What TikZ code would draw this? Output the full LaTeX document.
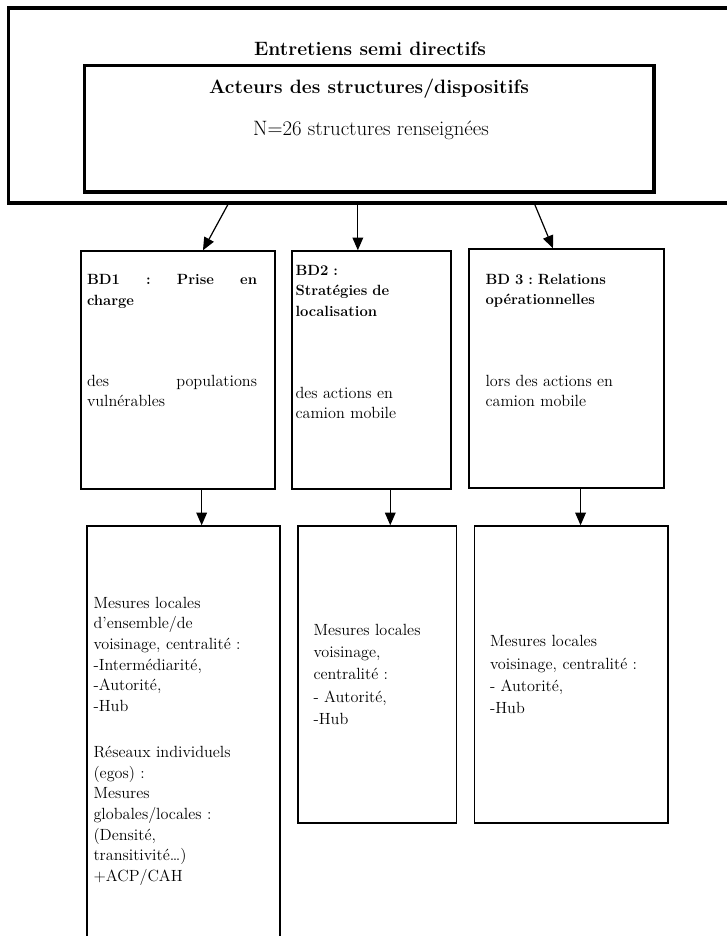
\documentclass[tikz,border=0pt]{standalone}
\usepackage{tikz}
\usetikzlibrary{arrows.meta,positioning,fit,calc}
\frenchspacing
\tikzset{
  framebox/.style={rectangle, draw=black, line width=2.5pt, inner sep=0pt},
  bdbox/.style   ={rectangle, draw=black, line width=1.1pt, inner sep=0pt},
  head/.style    ={font=\fontsize{14.5}{17}\selectfont\bfseries, inner sep=0pt},
  count/.style   ={font=\fontsize{15.6}{18}\selectfont, inner sep=0pt},
  bdtitle/.style ={font=\fontsize{11.1}{15.4}\selectfont\bfseries, align=left,
                   inner sep=0pt, anchor=base west},
  bdtext/.style  ={font=\fontsize{12.15}{15}\selectfont, align=left,
                   inner sep=0pt, anchor=base west},
  mtext/.style   ={font=\fontsize{12.15}{16.7}\selectfont, align=left,
                   inner sep=0pt, anchor=base west},
  flow/.style    ={-{Triangle[length=9.5pt,width=8pt]}, line width=0.9pt, draw=black}
}
\begin{document}
\begin{tikzpicture}[x=0.75pt, y=-0.75pt]
\useasboundingbox (0,0) rectangle (726,936);

\node[framebox, fit={(8.5,8) (745,203)}] (outer) {};
\node[framebox, fit={(84.5,65.5) (654,192)}] (inner) {};
\node[head] (entretiens) at (370,49) {Entretiens semi directifs};
\node[head] (acteurs) at (369,89) {Acteurs des structures/dispositifs};
\node[count] (nstruct) at (371,130) {N=26 structures renseignées};

\node[bdbox, fit={(81,251) (275,489)}] (bd1) {};
\node[bdbox, fit={(292,251) (451,489)}] (bd2) {};
\node[bdbox, fit={(469,249) (664,488)}] (bd3) {};
\node[bdbox, fit={(87,526) (280,960)}] (mes1) {};
\node[bdbox, fit={(298,526) (456.5,823)}] (mes2) {};
\node[bdbox, fit={(474.5,526) (668,823)}] (mes3) {};

\node[bdtitle, text width=127.5pt] (bd1t) at ($(bd1.north west)+(6.5,34.5)$)
  {\makebox[127.5pt]{BD1\hfill:\hfill Prise\hfill en}\\charge};
\node[bdtext, text width=127.5pt] (bd1d) at ($(bd1.north west)+(6.5,136)$)
  {\makebox[127.5pt]{des\hfill populations}\\vulnérables};
\node[bdtitle, text width=110pt] (bd2t) at ($(bd2.north west)+(4,25)$)
  {BD2 :\\Stratégies de\\localisation};
\node[bdtext, text width=110pt] (bd2d) at ($(bd2.north west)+(4,148)$)
  {des actions en\\camion mobile};
\node[bdtitle, text width=125pt] (bd3t) at ($(bd3.north west)+(17,36)$)
  {BD 3 : Relations\\opérationnelles};
\node[bdtext, text width=125pt] (bd3d) at ($(bd3.north west)+(17,138)$)
  {lors des actions en\\camion mobile};

\node[bdtext, font=\fontsize{12.15}{15.5}\selectfont, text width=135pt] (mes1t)
  at ($(mes1.north west)+(7,83)$)
  {Mesures locales\\d’ensemble/de\\voisinage, centralité :\\-Intermédiarité,\\-Autorité,\\-Hub\\[19pt]
   Réseaux individuels\\(egos) :\\Mesures\\globales/locales :\\(Densité,\\transitivité…)\\+ACP/CAH};
\node[mtext, text width=105pt] (mes2t) at ($(mes2.north west)+(16,110)$)
  {Mesures locales\\voisinage,\\centralité :\\- Autorité,\\-Hub};
\node[mtext, text width=125pt] (mes3t) at ($(mes3.north west)+(16,121.5)$)
  {Mesures locales\\voisinage, centralité :\\- Autorité,\\-Hub};

\draw[flow] ($(outer.south west)+(221,0)$) -- ($(bd1.north west)+(122.7,0)$);
\draw[flow] ($(outer.south west)+(351,0)$) coordinate (a2) -- (a2 |- bd2.north);
\draw[flow] ($(outer.south west)+(528,0)$) -- ($(bd3.north west)+(84.7,0)$);
\draw[flow] ($(bd1.south west)+(121.4,0)$) coordinate (b1) -- (b1 |- mes1.north);
\draw[flow] ($(bd2.south west)+(99,0)$) coordinate (b2) -- (b2 |- mes2.north);
\draw[flow] ($(bd3.south west)+(112.3,0)$) coordinate (b3) -- (b3 |- mes3.north);
\end{tikzpicture}
\end{document}
